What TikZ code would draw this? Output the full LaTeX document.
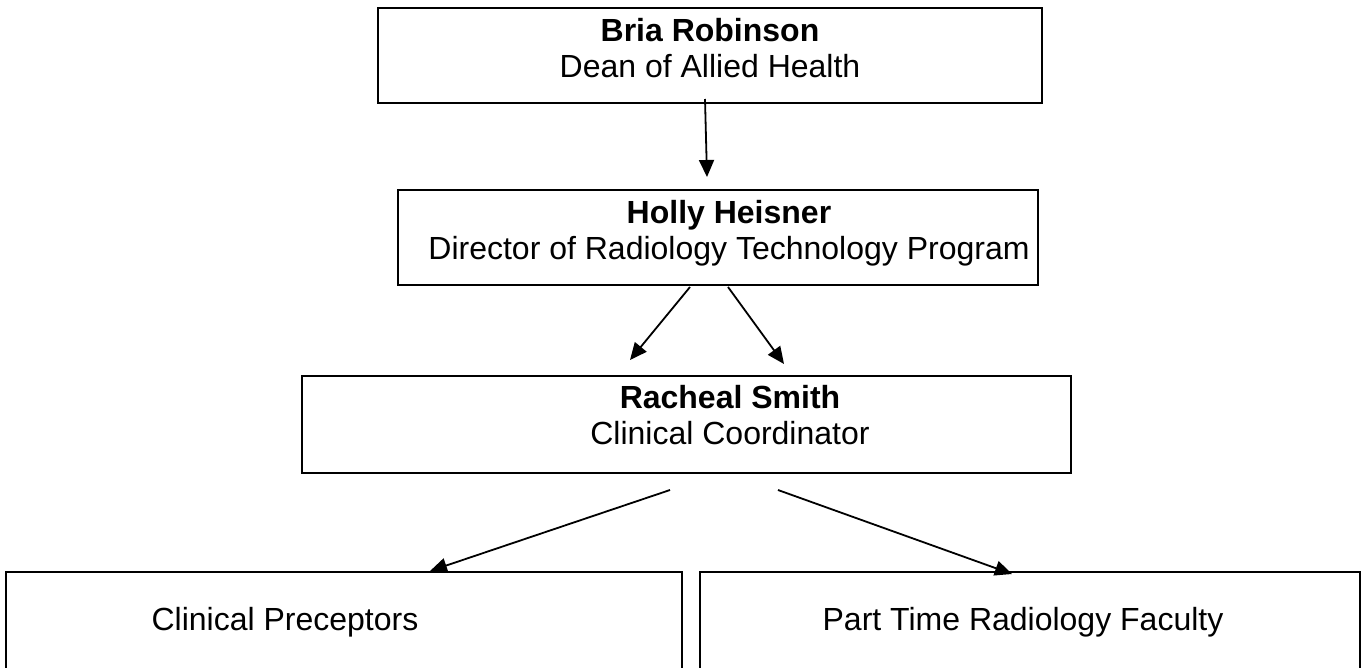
\documentclass[tikz,border=0pt]{standalone}
\usepackage{fontspec}
\setmainfont{Liberation Sans}
\usetikzlibrary{arrows.meta}
\begin{document}
\begin{tikzpicture}[x=1pt,y=-1pt,
  box/.style={draw,line width=2.6pt},
  lbl/.style={font=\fontsize{32}{36}\selectfont,align=center,inner sep=0pt,anchor=north},
  arr/.style={line width=1.8pt,-{Triangle[length=17pt,width=15pt]}}]
\useasboundingbox (0,0) rectangle (1364,667);
\begin{scope}
\clip (0,0) rectangle (1364,667);
% boxes
\draw[box] (378,8) rectangle (1042,103);
\draw[box] (398,190) rectangle (1038,285);
\draw[box] (302,376) rectangle (1071,473);
\draw[box] (6,572) rectangle (682,700);
\draw[box] (700,572) rectangle (1360,700);
\end{scope}
\node[lbl] (t1) at (710,18) {\textbf{Bria Robinson}\\Dean of Allied Health};
\node[lbl] (t2) at (729,200) {\textbf{Holly Heisner}\\Director of Radiology Technology Program};
\node[lbl] (t3) at (730,385) {\textbf{Racheal Smith}\\Clinical Coordinator};
\node[lbl,anchor=center] (t4) at (285,622) {Clinical Preceptors};
\node[lbl,anchor=center] (t5) at (1023,622) {Part Time Radiology Faculty};
% connectors
\coordinate (a1s) at (705,99);  \coordinate (a1e) at (707,177);
\coordinate (a2s) at (690,287); \coordinate (a2e) at (630,360);
\coordinate (a3s) at (728,287); \coordinate (a3e) at (784,364);
\coordinate (a4s) at (670,490); \coordinate (a4e) at (430,571);
\coordinate (a5s) at (778,490); \coordinate (a5e) at (1012,574);
\draw[arr] (a1s) -- (a1e);
\draw[arr] (a2s) -- (a2e);
\draw[arr] (a3s) -- (a3e);
\draw[arr] (a4s) -- (a4e);
\draw[arr] (a5s) -- (a5e);
\end{tikzpicture}
\end{document}
